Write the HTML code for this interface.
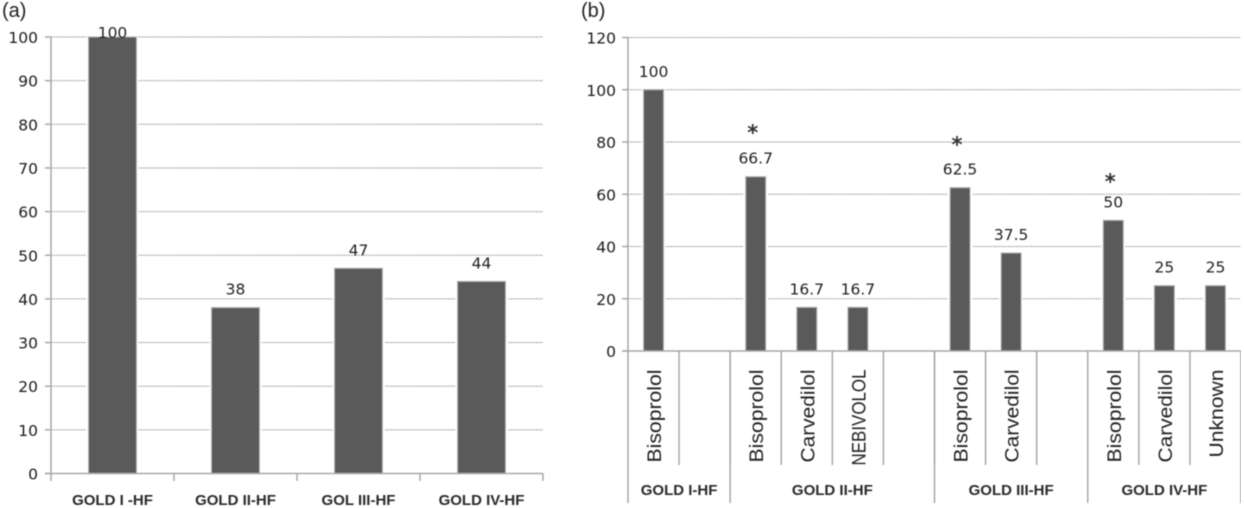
<!DOCTYPE html>
<html lang="en">
<head>
<meta charset="utf-8">
<title>GOLD HF charts</title>
<style>
html,body{margin:0;padding:0;background:#fff;}
#wrap{width:1244px;height:508px;overflow:hidden;position:relative;}
svg{display:block;}
text{fill:#1c1c1c;}
.tick{font:15.5px "DejaVu Sans",sans-serif;}
.val{font:15.5px "DejaVu Sans",sans-serif;fill:#222;}
.cat{font:bold 15px "Liberation Sans",sans-serif;fill:#2a2a2a;}
.rot{font:19px "Liberation Sans",sans-serif;fill:#222;}
.panel{font:20px "Liberation Sans",sans-serif;fill:#222;}
.star{font:bold 21px "DejaVu Sans",sans-serif;fill:#333;}
</style>
</head>
<body>
<div id="wrap">
<svg id="chart" width="1244" height="508" viewBox="0 0 1244 508" xmlns="http://www.w3.org/2000/svg">
<g filter="url(#soft)" id="root"></g>
<defs><filter id="soft" x="0" y="0" width="100%" height="100%"><feGaussianBlur stdDeviation="0.45"/></filter></defs>
</svg>
</div>
<script>
// Panel (a) data
const aCategories = ["GOLD I -HF", "GOLD II-HF", "GOL III-HF", "GOLD IV-HF"];
const aValues = [100, 38, 47, 44];
const aTicks = [0, 10, 20, 30, 40, 50, 60, 70, 80, 90, 100];

// Panel (b) data (null = empty slot)
const bDrugs = ["Bisoprolol", "", "Bisoprolol", "Carvedilol", "NEBIVOLOL", "", "Bisoprolol", "Carvedilol", "", "Bisoprolol", "Carvedilol", "Unknown"];
const bValues = [100, null, 66.7, 16.7, 16.7, null, 62.5, 37.5, null, 50, 25, 25];
const bStarLevels = [null, null, 84.6, null, null, null, 80, null, null, 65.8, null, null];
const bGroups = ["GOLD I-HF", "GOLD II-HF", "GOLD III-HF", "GOLD IV-HF"];
const bGroupSizes = [2, 4, 3, 3];
const bTicks = [0, 20, 40, 60, 80, 100, 120];

const root = document.getElementById('root');
const NS = 'http://www.w3.org/2000/svg';
function mk(tag, attrs, txt) {
  const e = document.createElementNS(NS, tag);
  for (const k in attrs) e.setAttribute(k, attrs[k]);
  if (txt !== undefined) e.textContent = txt;
  root.appendChild(e);
  return e;
}
function line(x1, y1, x2, y2, stroke, w, dash) {
  const a = {x1: x1, y1: y1, x2: x2, y2: y2, stroke: stroke, 'stroke-width': w};
  if (dash) a['stroke-dasharray'] = dash;
  return mk('line', a);
}

const AXIS = '#a8a8a8', GRID = '#8c8c8c', BAR = '#5a5a5a', EDGE = '#a9a9a9';

function drawBar(x, w, y, y0, name) {
  const halo = mk('rect', {x: x - 2, y: y, width: w + 4, height: y0 - y, fill: '#fff'});
  
  
  const r = mk('rect', {x: x, y: y, width: w, height: y0 - y, fill: BAR, stroke: EDGE, 'stroke-width': 1});
  
  
}

/* ---------- Panel (a) ---------- */
const aLeft = 51, aRight = 543, aY0 = 473.5, aTop = 37;
const ay = v => aY0 - (v / 100) * (aY0 - aTop);
const aSlot = (aRight - aLeft) / aCategories.length;
const aLabel = mk('text', {x: 2, y: 17, class: 'panel'}, '(a)');


aTicks.forEach(t => {
  const y = ay(t);
  if (t > 0) {
    const g = line(aLeft, y, aRight, y, GRID, 1, '1.5 1');
    
    
  }
  line(45, y, aLeft, y, AXIS, 1.5);
  const lb = mk('text', {x: 38, y: y + 6, 'text-anchor': 'end', class: 'tick'}, String(t));
  
  
});
aValues.forEach((v, i) => {
  const cx = aLeft + aSlot * (i + 0.5);
  drawBar(cx - 24, 48, ay(v), aY0, 'a-bar-' + i);
  const ty = Math.max(ay(v) - 13, 38);
  const lb = mk('text', {x: cx, y: ty, 'text-anchor': 'middle', class: 'val'}, String(v));
  
  
  const c = mk('text', {x: cx, y: 505, 'text-anchor': 'middle', class: 'cat'}, aCategories[i]);
  
  
});
line(aLeft, aTop, aLeft, aY0, AXIS, 1.5);
line(45, aY0, aRight, aY0, AXIS, 1.5);
for (let i = 0; i <= aCategories.length; i++) {
  const x = aLeft + aSlot * i;
  line(x, aY0, x, 481, AXIS, 1.5);
}

/* ---------- Panel (b) ---------- */
const bLeft = 628, bRight = 1241, bY0 = 351, bTop = 37.5;
const by = v => bY0 - (v / 120) * (bY0 - bTop);
const bSlot = (bRight - bLeft) / bDrugs.length;
const bLabel = mk('text', {x: 581, y: 17, class: 'panel'}, '(b)');


bTicks.forEach(t => {
  const y = by(t);
  if (t > 0) {
    const g = line(bLeft, y, bRight, y, GRID, 1, '1.5 1');
    
    
  }
  line(622, y, bLeft, y, AXIS, 1.5);
  const lb = mk('text', {x: 616, y: y + 6, 'text-anchor': 'end', class: 'tick'}, String(t));
  
  
});
bValues.forEach((v, i) => {
  const cx = bLeft + bSlot * (i + 0.5);
  if (v !== null) {
    drawBar(cx - 10, 20, by(v), bY0, 'b-bar-' + i);
    const lb = mk('text', {x: cx, y: by(v) - 13, 'text-anchor': 'middle', class: 'val'}, String(v));
    
    
  }
  if (bStarLevels[i] !== null) {
    const s = mk('text', {x: cx - 3, y: by(bStarLevels[i]) + 10, 'text-anchor': 'middle', class: 'star'}, '*');
    
    
  }
  if (bDrugs[i]) {
    const d = mk('text', {x: 0, y: 0, class: 'rot', 'text-anchor': 'end', transform: 'translate(' + (cx + 7.5) + ',369.5) rotate(-90)', textLength: bDrugs[i] === 'Unknown' ? 88 : (bDrugs[i] === 'NEBIVOLOL' ? 96 : 93), lengthAdjust: 'spacingAndGlyphs'}, bDrugs[i]);
    
    
  }
});
line(bLeft, bTop, bLeft, bY0, AXIS, 1.5);
line(622, bY0, bRight, bY0, AXIS, 1.5);
for (let i = 1; i < bDrugs.length; i++) {
  const x = bLeft + bSlot * i;
  line(x, bY0, x, 465, AXIS, 1.5);
}
let cursor = 0;
bGroups.forEach((name, i) => {
  const x0 = bLeft + bSlot * cursor;
  const x1 = bLeft + bSlot * (cursor + bGroupSizes[i]);
  line(x0, bY0, x0, 503, AXIS, 1.5);
  const g = mk('text', {x: (x0 + x1) / 2, y: 495, 'text-anchor': 'middle', class: 'cat'}, name);
  
  
  cursor += bGroupSizes[i];
});
line(bRight, bY0, bRight, 503, AXIS, 1.5);
</script>
</body>
</html>
